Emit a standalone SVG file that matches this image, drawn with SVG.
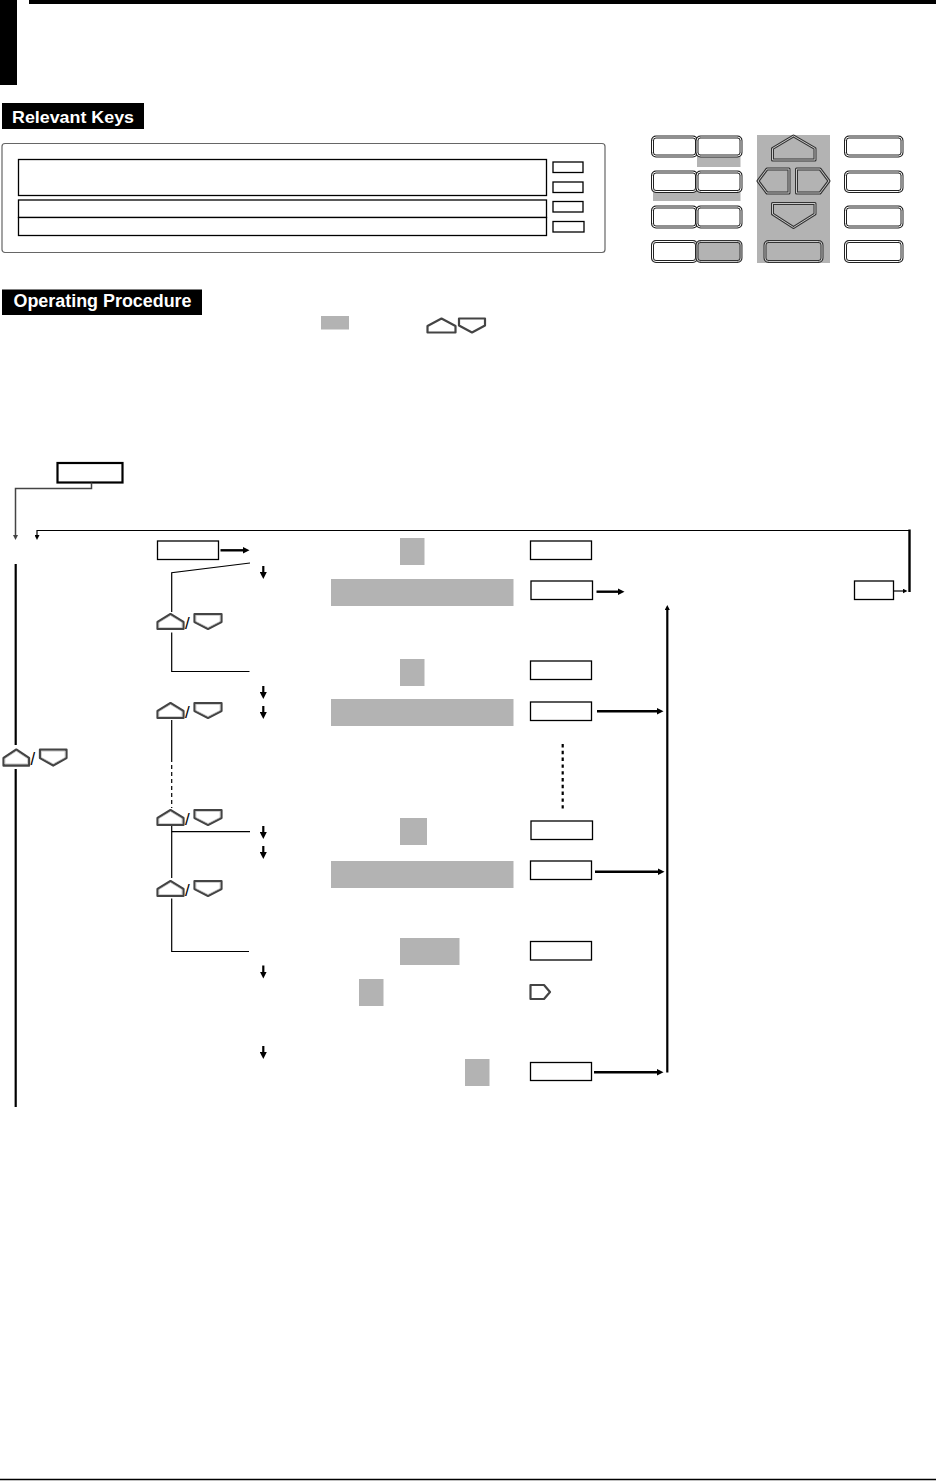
<svg xmlns="http://www.w3.org/2000/svg" width="936" height="1481" viewBox="0 0 936 1481">
<style>
.lbl{fill:#000}
.lt{font-family:"Liberation Sans",Arial,sans-serif;font-weight:bold;fill:#fff}
.box{fill:#fff;stroke:#000;stroke-width:1.3}
.gr{fill:#b3b3b3}
.ln{fill:none;stroke:#000;stroke-width:1.2}
.thk{fill:none;stroke:#000;stroke-width:2.4}
.da{stroke:#000;stroke-width:2.2}
.kout{fill:#fff;stroke:#222;stroke-width:3}
.kin{fill:none;stroke:#fff;stroke-width:1}
.kg{fill:#b3b3b3;stroke:#333;stroke-width:3}
.kgi{fill:none;stroke:#c8c8c8;stroke-width:1}
.ico{fill:#fff;stroke:#444;stroke-width:2.2;stroke-linejoin:round}
.icoi{fill:none;stroke:#bbb;stroke-width:0.7;stroke-linejoin:round}
.sl{font-family:"Liberation Sans",Arial,sans-serif;font-size:17px;fill:#000}
</style>
<defs>
<marker id="hd" markerUnits="userSpaceOnUse" markerWidth="7" markerHeight="7" refX="3" refY="3.5" orient="auto"><path d="M0,0 L7,3.5 L0,7 z" fill="#000"/></marker>
<marker id="hs" markerUnits="userSpaceOnUse" markerWidth="5" markerHeight="5" refX="2" refY="2.5" orient="auto"><path d="M0,0 L5,2.5 L0,5 z" fill="#000"/></marker>
<marker id="hsg" markerUnits="userSpaceOnUse" markerWidth="5" markerHeight="5" refX="2" refY="2.5" orient="auto"><path d="M0,0 L5,2.5 L0,5 z" fill="#444"/></marker>
<marker id="ht" markerUnits="userSpaceOnUse" markerWidth="7" markerHeight="7" refX="3" refY="3.5" orient="auto"><path d="M0,0 L7,3.5 L0,7 z" fill="#000"/></marker>
<g id="updn">
<polygon class="ico" points="1,16 1,9 14,1 27,9 27,16"/>
<polygon class="icoi" points="2.5,14.5 2.5,9.5 14,2.5 25.5,9.5 25.5,14.5"/>
<text class="sl" x="28.5" y="16">/</text>
<polygon class="ico" points="38,1 65,1 65,9 51.5,16 38,9"/>
<polygon class="icoi" points="39.5,2.5 63.5,2.5 63.5,8.5 51.5,14.5 39.5,8.5"/>
</g>
</defs>
<rect width="936" height="1481" fill="#fff"/>

<g id="header">
<rect x="29" y="0" width="907" height="4" fill="#000"/>
<rect x="0" y="0" width="17" height="85" fill="#000"/>
</g>

<g id="relevant-keys-label">
<rect x="2" y="103" width="142" height="26" fill="#000"/>
<text class="lt" x="12" y="122.5" font-size="16.5" textLength="122" lengthAdjust="spacingAndGlyphs">Relevant Keys</text>
</g>

<g id="keys-panel">
<rect x="2" y="143.5" width="603" height="109" rx="3" fill="#fff" stroke="#666" stroke-width="1.2"/>
<rect class="box" x="18.5" y="159.5" width="528" height="36"/>
<rect class="box" x="18.5" y="200" width="528" height="17.5"/>
<rect class="box" x="18.5" y="217.5" width="528" height="18"/>
<rect class="box" x="553" y="162" width="30" height="10.5"/>
<rect class="box" x="553" y="182" width="30" height="10.5"/>
<rect class="box" x="553" y="201.5" width="30" height="10.5"/>
<rect class="box" x="553" y="221.5" width="31" height="10.5"/>
</g>

<g id="key-pad">
<rect class="gr" x="697" y="155" width="43.5" height="12"/>
<rect class="gr" x="653" y="191" width="87.5" height="10"/>
<rect class="gr" x="757" y="135" width="73" height="128"/>
<g id="kp-left">
<rect class="kout" x="652.5" y="137" width="44" height="19" rx="3.5"/><rect class="kin" x="652.5" y="137" width="44" height="19" rx="3.5"/>
<rect class="kout" x="697" y="137" width="44" height="19" rx="3.5"/><rect class="kin" x="697" y="137" width="44" height="19" rx="3.5"/>
<rect class="kout" x="652.5" y="172" width="44" height="19.5" rx="3.5"/><rect class="kin" x="652.5" y="172" width="44" height="19.5" rx="3.5"/>
<rect class="kout" x="697" y="172" width="44" height="19.5" rx="3.5"/><rect class="kin" x="697" y="172" width="44" height="19.5" rx="3.5"/>
<rect class="kout" x="652.5" y="207" width="44" height="20" rx="3.5"/><rect class="kin" x="652.5" y="207" width="44" height="20" rx="3.5"/>
<rect class="kout" x="697" y="207" width="44" height="20" rx="3.5"/><rect class="kin" x="697" y="207" width="44" height="20" rx="3.5"/>
<rect class="kout" x="652.5" y="241.5" width="44" height="20" rx="3.5"/><rect class="kin" x="652.5" y="241.5" width="44" height="20" rx="3.5"/>
<rect class="kg" x="697" y="241.5" width="44" height="20" rx="3.5"/><rect class="kgi" x="697" y="241.5" width="44" height="20" rx="3.5"/>
</g>
<g id="kp-arrows">
<polygon class="kg" stroke-linejoin="round" points="772.5,160 772.5,148.5 793.5,136 815,148.5 815,160"/>
<polygon class="kgi" stroke-linejoin="round" points="772.5,160 772.5,148.5 793.5,136 815,148.5 815,160"/>
<polygon class="kg" stroke-linejoin="round" points="789,169 767,169 758,181 767,193 789,193"/>
<polygon class="kgi" stroke-linejoin="round" points="789,169 767,169 758,181 767,193 789,193"/>
<polygon class="kg" stroke-linejoin="round" points="796.5,169 820,169 829,181 820,193 796.5,193"/>
<polygon class="kgi" stroke-linejoin="round" points="796.5,169 820,169 829,181 820,193 796.5,193"/>
<polygon class="kg" stroke-linejoin="round" points="772.5,203.5 815,203.5 815,214 793.5,227.5 772.5,214"/>
<polygon class="kgi" stroke-linejoin="round" points="772.5,203.5 815,203.5 815,214 793.5,227.5 772.5,214"/>
<rect class="kg" x="765" y="241.5" width="57" height="20" rx="3.5"/><rect class="kgi" x="765" y="241.5" width="57" height="20" rx="3.5"/>
</g>
<g id="kp-right">
<rect class="kout" x="845.5" y="137" width="56.5" height="19" rx="3.5"/><rect class="kin" x="845.5" y="137" width="56.5" height="19" rx="3.5"/>
<rect class="kout" x="845.5" y="172" width="56.5" height="19.5" rx="3.5"/><rect class="kin" x="845.5" y="172" width="56.5" height="19.5" rx="3.5"/>
<rect class="kout" x="845.5" y="207" width="56.5" height="20" rx="3.5"/><rect class="kin" x="845.5" y="207" width="56.5" height="20" rx="3.5"/>
<rect class="kout" x="845.5" y="241.5" width="56.5" height="20" rx="3.5"/><rect class="kin" x="845.5" y="241.5" width="56.5" height="20" rx="3.5"/>
</g>
</g>

<g id="operating-procedure-label">
<rect x="2" y="289.5" width="200" height="25.5" fill="#000"/>
<text class="lt" x="13.5" y="307" font-size="17.5" textLength="178" lengthAdjust="spacingAndGlyphs">Operating Procedure</text>
</g>

<g id="legend">
<rect class="gr" x="321" y="316" width="28" height="13.5"/>
<polygon class="ico" points="427.5,332.5 427.5,326 441.5,318.5 455.5,326 455.5,332.5"/>
<polygon class="ico" points="459,318.5 485,318.5 485,325.5 472,332.5 459,325.5"/>
</g>

<g id="nodes">
<rect id="n-top" x="57.5" y="463" width="65" height="19.5" fill="#fff" stroke="#000" stroke-width="2.2"/>
<rect id="n-start" class="box" x="157.5" y="541" width="61" height="18.5"/>
<rect id="n-g1" class="gr" x="400" y="538" width="24.5" height="27"/>
<rect id="n-b1" class="box" x="530.5" y="541" width="61" height="18.5"/>
<rect id="n-G1" class="gr" x="331" y="579" width="182.5" height="27"/>
<rect id="n-b2" class="box" x="531" y="581" width="61.5" height="18.5"/>
<rect id="n-end" class="box" x="854.5" y="581" width="39" height="18.5"/>
<rect id="n-g2" class="gr" x="400" y="659" width="24.5" height="27"/>
<rect id="n-b3" class="box" x="530.5" y="661" width="61" height="18.5"/>
<rect id="n-G2" class="gr" x="331" y="699" width="182.5" height="27"/>
<rect id="n-b4" class="box" x="530.5" y="702" width="61" height="18.5"/>
<rect id="n-g3" class="gr" x="400" y="818" width="27" height="27"/>
<rect id="n-b5" class="box" x="531" y="821" width="61.5" height="18.5"/>
<rect id="n-G3" class="gr" x="331" y="861" width="182.5" height="27"/>
<rect id="n-b6" class="box" x="530.5" y="861" width="61" height="18.5"/>
<rect id="n-g4" class="gr" x="400" y="938" width="59.5" height="27"/>
<rect id="n-b7" class="box" x="530.5" y="941.5" width="61" height="18.5"/>
<rect id="n-g5" class="gr" x="359" y="979" width="24.5" height="27"/>
<polygon id="n-rk" class="ico" points="530.5,985 544,985 550,992 544,999 530.5,999"/>
<rect id="n-g6" class="gr" x="465" y="1059" width="24.5" height="27"/>
<rect id="n-b8" class="box" x="530.5" y="1062.5" width="61" height="18"/>
<g id="n-k0" transform="translate(2.5,748.5) scale(0.985,1.06)"><use href="#updn"/></g>
<g id="n-k1" transform="translate(156.5,613)"><use href="#updn"/></g>
<g id="n-k2" transform="translate(156.5,702)"><use href="#updn"/></g>
<g id="n-k3" transform="translate(156.5,809)"><use href="#updn"/></g>
<g id="n-k4" transform="translate(156.5,880)"><use href="#updn"/></g>
</g>

<g id="connectors">
<path d="M91.5,482.5 V488.5 H15.5 V537" fill="none" stroke="#444" stroke-width="1.5" marker-end="url(#hsg)"/>
<path d="M909,530.5 H37 V537" class="ln" marker-end="url(#hs)"/>
<line x1="909.5" y1="529.5" x2="909.5" y2="592" stroke="#000" stroke-width="2.4"/>
<line x1="893.5" y1="591" x2="904.5" y2="591" class="ln" marker-end="url(#hs)"/>
<line x1="15.7" y1="564" x2="15.7" y2="745" stroke="#000" stroke-width="2.2"/>
<line x1="15.7" y1="769" x2="15.7" y2="1107" stroke="#000" stroke-width="2.2"/>
<line x1="220.5" y1="550.3" x2="245.5" y2="550.3" class="thk" marker-end="url(#ht)"/>
<path d="M250,563 L171.7,572.7 V612" class="ln"/>
<path d="M171.7,632.5 V671.5 H249.5" class="ln"/>
<line x1="171.7" y1="720" x2="171.7" y2="758" class="ln"/>
<line x1="171.7" y1="758" x2="171.7" y2="808" fill="none" stroke="#000" stroke-width="1.2" stroke-dasharray="4,3"/>
<path d="M171.7,826 V878" class="ln"/>
<line x1="171.7" y1="831.7" x2="250" y2="831.7" class="ln"/>
<path d="M171.7,898.5 V951.5 H249" class="ln"/>
<line x1="562.7" y1="744" x2="562.7" y2="812" stroke="#000" stroke-width="2.2" stroke-dasharray="3.4,3.4"/>
<line x1="596.5" y1="591.7" x2="620.5" y2="591.7" class="thk" marker-end="url(#ht)"/>
<line x1="597" y1="711.3" x2="659.5" y2="711.3" class="thk" marker-end="url(#ht)"/>
<line x1="595" y1="871.7" x2="660.5" y2="871.7" class="thk" marker-end="url(#ht)"/>
<line x1="594" y1="1072.3" x2="659.5" y2="1072.3" class="thk" marker-end="url(#ht)"/>
<line x1="667.3" y1="1072.5" x2="667.3" y2="608" stroke="#000" stroke-width="2.2" marker-end="url(#hs)"/>
<line x1="263.3" y1="566" x2="263.3" y2="575" class="da" marker-end="url(#hd)"/>
<line x1="263.3" y1="686" x2="263.3" y2="695" class="da" marker-end="url(#hd)"/>
<line x1="263.3" y1="706" x2="263.3" y2="715" class="da" marker-end="url(#hd)"/>
<line x1="263.3" y1="826" x2="263.3" y2="835" class="da" marker-end="url(#hd)"/>
<line x1="263.3" y1="846" x2="263.3" y2="855" class="da" marker-end="url(#hd)"/>
<line x1="263.3" y1="965.5" x2="263.3" y2="974.5" class="da" marker-end="url(#hd)"/>
<line x1="263.3" y1="1046" x2="263.3" y2="1055" class="da" marker-end="url(#hd)"/>
</g>

<g id="footer">
<line x1="0" y1="1479.5" x2="936" y2="1479.5" stroke="#000" stroke-width="1.6"/>
</g>
</svg>
